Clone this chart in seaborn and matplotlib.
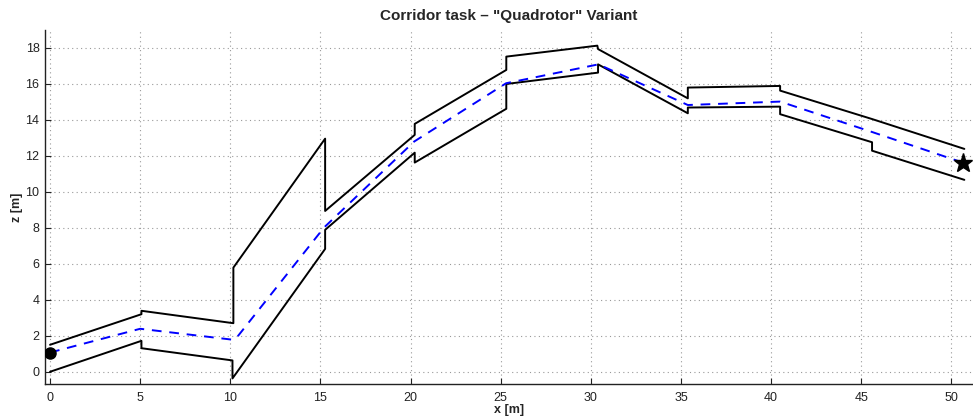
import pandas as pd
import matplotlib
matplotlib.use('Agg')
import matplotlib.pyplot as plt
import seaborn as sns

# --- Data ---
upper_x = [0, 5.07, 5.07, 10.17, 10.17, 15.26, 15.26, 20.23, 20.23, 25.31, 25.31,
           30.36, 30.4, 35.38, 35.38, 40.5, 40.5, 45.6, 50.72]
upper_z = [1.5, 3.2, 3.39, 2.7, 5.79, 12.96, 8.94, 13.17, 13.78, 16.78, 17.52,
           18.13, 17.94, 15.2, 15.8, 15.89, 15.63, 14.05, 12.39]

lower_x = [0, 5.07, 5.07, 10.12, 10.12, 15.26, 15.26, 20.23, 20.23, 25.31, 25.31,
           30.4, 30.4, 35.38, 35.38, 40.5, 40.5, 45.6, 45.6, 50.72]
lower_z = [0.0, 1.72, 1.31, 0.63, -0.37, 6.83, 7.89, 12.18, 11.63, 14.62, 16.0,
           16.63, 17.09, 14.37, 14.69, 14.74, 14.32, 12.76, 12.29, 10.67]

path_x = [0, 5.0, 10.15, 10.45, 15.2, 20.2, 25.3, 30.42, 35.38, 40.5, 45.6, 50.63]
path_z = [1.07, 2.39, 1.78, 2.02, 8.02, 12.8, 16.04, 17.09, 14.83, 15.02, 13.33, 11.63]

start_pt = (0, 1.07)
goal_pt = (50.63, 11.63)

TITLE = 'Corridor task \u2013 "Quadrotor" Variant'
X_TICKS = list(range(0, 51, 5))
Y_TICKS = list(range(0, 19, 2))

# --- Style ---
sns.set_style('white')
plt.rcParams['font.family'] = ['Liberation Sans', 'DejaVu Sans']
plt.rcParams['axes.unicode_minus'] = False

fig = plt.figure(figsize=(9.73, 4.18), dpi=100)
ax = fig.add_axes([45 / 973, 34 / 418, 928 / 973, 354 / 418])

upper_df = pd.DataFrame({'x': upper_x, 'z': upper_z})
lower_df = pd.DataFrame({'x': lower_x, 'z': lower_z})
path_df = pd.DataFrame({'x': path_x, 'z': path_z})

sns.lineplot(data=upper_df, x='x', y='z', sort=False, estimator=None,
             color='black', linewidth=1.4, ax=ax)
sns.lineplot(data=lower_df, x='x', y='z', sort=False, estimator=None,
             color='black', linewidth=1.4, ax=ax)
sns.lineplot(data=path_df, x='x', y='z', sort=False, estimator=None,
             color='#0000ff', linewidth=1.4, linestyle=(0, (5, 4)), ax=ax)

ax.plot(*start_pt, 'o', color='black', markersize=8, zorder=5)
ax.plot(*goal_pt, '*', color='black', markersize=14, zorder=5)

ax.set_xlim(-0.28, 51.2)
ax.set_ylim(-0.68, 19.0)
ax.set_xticks(X_TICKS)
ax.set_yticks(Y_TICKS)

ax.grid(True, linestyle=(0, (1, 3)), color='#999999', linewidth=0.8)
ax.set_axisbelow(True)

for side in ['top', 'right']:
    ax.spines[side].set_visible(False)
for side in ['left', 'bottom']:
    ax.spines[side].set_color('#222222')
    ax.spines[side].set_linewidth(1.0)

ax.tick_params(direction='in', length=4, width=0.8, colors='#222222',
               labelsize=9, left=True, bottom=True)
ax.tick_params(axis='x', pad=6)
ax.tick_params(axis='y', pad=4)

ax.set_xlabel('x [m]', fontsize=9, fontweight='bold', labelpad=0)
ax.set_ylabel('z [m]', fontsize=9, fontweight='bold', labelpad=2)
ax.set_title(TITLE, fontsize=11, fontweight='bold', pad=7)

fig.savefig('out.png', dpi=100)
